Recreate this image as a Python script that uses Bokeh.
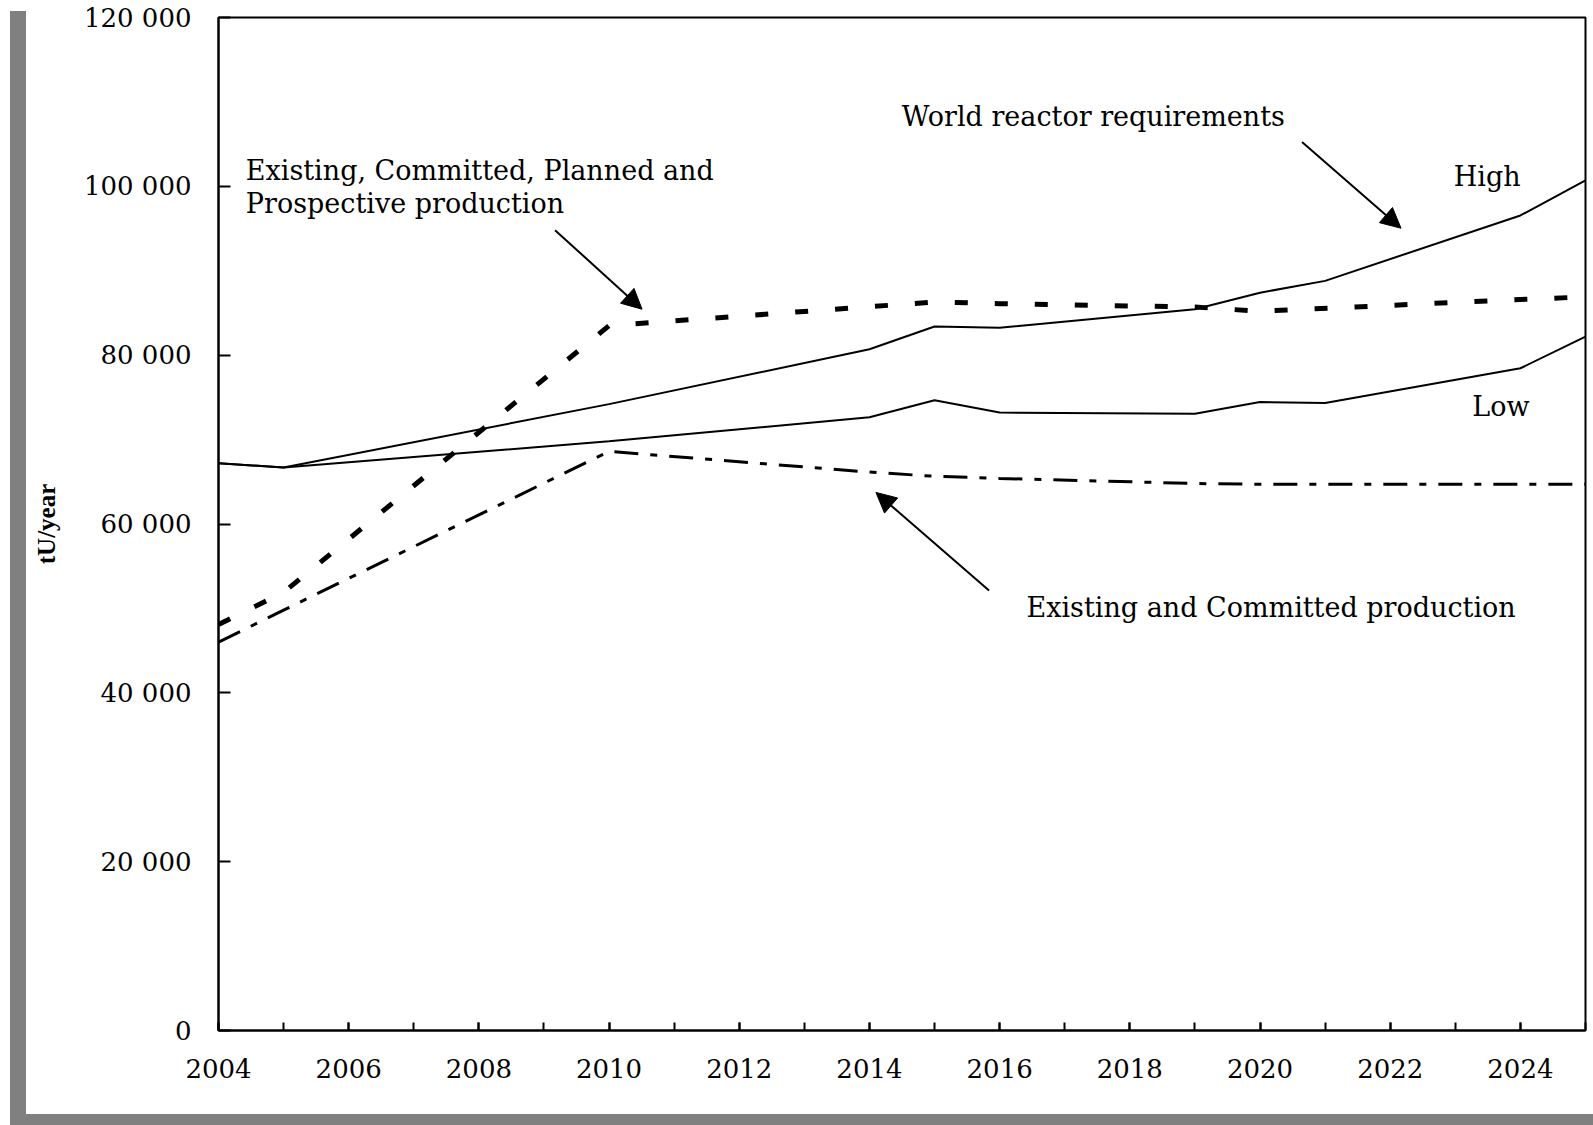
from bokeh.plotting import figure
from bokeh.models import Range1d, FixedTicker, Arrow, NormalHead, Div, Spacer
from bokeh.layouts import row, column
from bokeh.embed import file_html
from bokeh.resources import INLINE
from bokeh.core.properties import value

# ---------------- data ----------------
req_years = [2004, 2005, 2010, 2014, 2015, 2016, 2019, 2020, 2021, 2024, 2025]
req_high = [67200, 66700, 74200, 80700, 83400, 83250, 85450, 87400, 88800, 96550, 100700]
req_low = [67200, 66700, 69800, 72650, 74650, 73200, 73050, 74450, 74330, 78450, 82200]

ecpp_years = [2004, 2005, 2010, 2015, 2016, 2019, 2020, 2024, 2025]
ecpp_prod = [48100, 51900, 83500, 86300, 86100, 85700, 85200, 86600, 86900]

ec_years = [2004, 2005, 2010, 2014, 2015, 2016, 2019, 2020, 2025]
ec_prod = [46000, 49800, 68600, 66150, 65650, 65400, 64800, 64700, 64700]

x_ticks = list(range(2004, 2026, 2))
x_minor = list(range(2004, 2026))
y_ticks = [0, 20000, 40000, 60000, 80000, 100000, 120000]
y_tick_labels = ["0", "20 000", "40 000", "60 000", "80 000", "100 000", "120 000"]

FONT = "DejaVu Serif"
TICK_FS = "26px"
ANN_FS = "27px"

p = figure(width=1567, height=1114,
           x_range=Range1d(2004, 2025), y_range=Range1d(0, 120000),
           output_backend="svg", toolbar_location=None,
           min_border_left=192, min_border_right=8,
           min_border_top=17, min_border_bottom=84)
p.grid.visible = False
p.background_fill_color = "white"
p.border_fill_color = "white"
p.outline_line_color = "black"
p.outline_line_width = 2

# axes
xa = p.xaxis[0]
xa.ticker = FixedTicker(ticks=x_ticks, minor_ticks=x_minor)
xa.major_tick_in = 8
xa.major_tick_out = 0
xa.minor_tick_in = 8
xa.minor_tick_out = 0
xa.major_tick_line_width = 2
xa.minor_tick_line_width = 2
xa.axis_line_width = 2
xa.major_label_text_font = FONT
xa.major_label_text_font_size = TICK_FS
xa.major_label_text_color = "black"
xa.major_label_standoff = 28

ya = p.yaxis[0]
ya.ticker = FixedTicker(ticks=y_ticks, minor_ticks=[])
ya.major_label_overrides = {t: l for t, l in zip(y_ticks, y_tick_labels)}
ya.major_tick_in = 12
ya.major_tick_out = 0
ya.minor_tick_in = 0
ya.minor_tick_out = 0
ya.major_tick_line_width = 2
ya.axis_line_width = 2
ya.major_label_text_font = FONT
ya.major_label_text_font_size = TICK_FS
ya.major_label_text_color = "black"
ya.major_label_standoff = 27
ya.axis_label = "tU/year"
ya.axis_label_text_font = "Liberation Serif"
ya.axis_label_text_font_style = "bold"
ya.axis_label_text_font_size = "25px"
ya.axis_label_text_color = "black"
ya.axis_label_standoff = 21

# series
p.line(req_years, req_high, line_color="black", line_width=2)
p.line(req_years, req_low, line_color="black", line_width=2)
p.line(ecpp_years, ecpp_prod, line_color="black", line_width=5, line_dash="13 27")
p.line(ec_years, ec_prod, line_color="black", line_width=3, line_dash="24 12 7 12")

# annotation texts
txt = dict(text_font=value(FONT), text_font_size=ANN_FS, text_color="black",
           text_baseline="alphabetic")
p.text(x=[2017.44], y=[108260], text=["World reactor requirements"], text_align="center", **txt)
p.text(x=[2023.49], y=[101140], text=["High"], text_align="center", **txt)
p.text(x=[2023.70], y=[73870], text=["Low"], text_align="center", **txt)
p.text(x=[2004.42], y=[101860], text=["Existing, Committed, Planned and"], text_align="left", **txt)
p.text(x=[2004.42], y=[97940], text=["Prospective production"], text_align="left", **txt)
p.text(x=[2020.17], y=[50150], text=["Existing and Committed production"], text_align="center", **txt)

# arrows
for xs, ys, xe, ye in [(2020.645, 105240, 2022.166, 95040),
                       (2009.17, 94810, 2010.507, 85440),
                       (2015.837, 52120, 2014.10, 63740)]:
    p.add_layout(Arrow(end=NormalHead(size=20, fill_color="black", line_color="black"),
                       x_start=xs, y_start=ys, x_end=xe, y_end=ye,
                       line_color="black", line_width=2))

gray = "#808080"
left_col = column(Spacer(width=16, height=11, margin=0),
                  Div(text="", width=16, height=1103, margin=0,
                      styles={"background-color": gray}),
                  spacing=0, margin=0)
top = row(Spacer(width=10, height=1114, margin=0), left_col, p, spacing=0, margin=0)
bottom = row(Spacer(width=10, height=11, margin=0),
             Div(text="", width=1583, height=11, margin=0,
                 styles={"background-color": gray}),
             spacing=0, margin=0)
layout = column(top, bottom, spacing=0, margin=0)

open("out.html", "w").write(file_html(layout, INLINE))
